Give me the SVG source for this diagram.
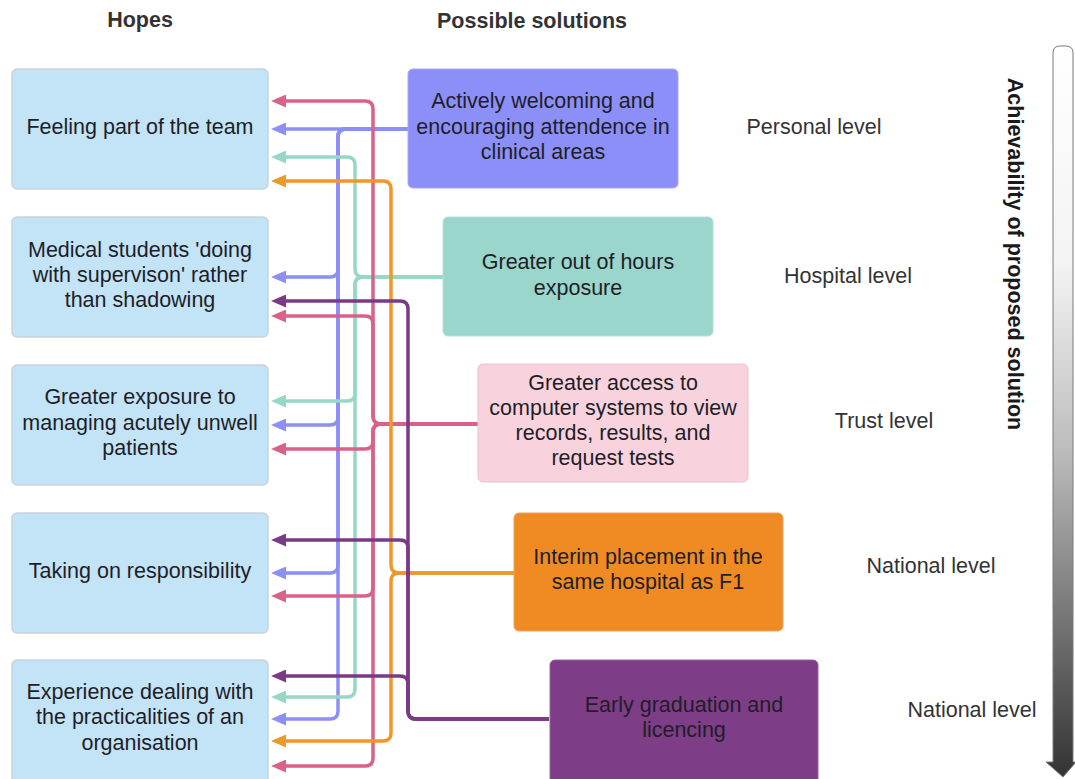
<svg xmlns="http://www.w3.org/2000/svg" width="1075" height="779" viewBox="0 0 1075 779">
<style>
text{font-family:"Liberation Sans",Arial,sans-serif;font-size:21.5px;fill:#1e1e28;text-anchor:middle}
.hd{font-weight:bold;fill:#333}
.lvl{fill:#333}
.hope{fill:#c3e3f6;stroke:#c9d3db;stroke-width:1.5}
.c{fill:none;stroke-width:3.5;stroke-linejoin:round}
.blue{stroke:#8c8ff4}.teal{stroke:#97d7c7}.pink{stroke:#d9628b}.orange{stroke:#ef972a}.purple{stroke:#7b3a86}
</style>
<defs>
<linearGradient id="grad" x1="0" y1="0" x2="0" y2="1">
<stop offset="0" stop-color="#ffffff"/>
<stop offset="0.3" stop-color="#f3f3f3"/>
<stop offset="0.55" stop-color="#bdbdbd"/>
<stop offset="1" stop-color="#333333"/>
</linearGradient>
<marker id="mb" viewBox="0 0 15 13" refX="1" refY="6.5" markerWidth="15" markerHeight="13" markerUnits="userSpaceOnUse" orient="auto"><path d="M0,0 L15,6.5 L0,13 z" fill="#8c8ff4"/></marker>
<marker id="mt" viewBox="0 0 15 13" refX="1" refY="6.5" markerWidth="15" markerHeight="13" markerUnits="userSpaceOnUse" orient="auto"><path d="M0,0 L15,6.5 L0,13 z" fill="#97d7c7"/></marker>
<marker id="mp" viewBox="0 0 15 13" refX="1" refY="6.5" markerWidth="15" markerHeight="13" markerUnits="userSpaceOnUse" orient="auto"><path d="M0,0 L15,6.5 L0,13 z" fill="#d9628b"/></marker>
<marker id="mo" viewBox="0 0 15 13" refX="1" refY="6.5" markerWidth="15" markerHeight="13" markerUnits="userSpaceOnUse" orient="auto"><path d="M0,0 L15,6.5 L0,13 z" fill="#ef972a"/></marker>
<marker id="mu" viewBox="0 0 15 13" refX="1" refY="6.5" markerWidth="15" markerHeight="13" markerUnits="userSpaceOnUse" orient="auto"><path d="M0,0 L15,6.5 L0,13 z" fill="#7b3a86"/></marker>
</defs>
<rect width="1075" height="779" fill="#ffffff"/>

<text class="hd" x="140" y="27">Hopes</text>
<text class="hd" x="532" y="28">Possible solutions</text>

<g id="hope1"><rect class="hope" x="12" y="69" width="256" height="120" rx="5"/><text x="140" y="134">Feeling part of the team</text></g>
<g id="hope2"><rect class="hope" x="12" y="217" width="256" height="120" rx="5"/><text x="140" y="257">Medical students 'doing</text><text x="140" y="282">with supervison' rather</text><text x="140" y="307">than shadowing</text></g>
<g id="hope3"><rect class="hope" x="12" y="365" width="256" height="120" rx="5"/><text x="140" y="404">Greater exposure to</text><text x="140" y="430">managing acutely unwell</text><text x="140" y="455">patients</text></g>
<g id="hope4"><rect class="hope" x="12" y="513" width="256" height="120" rx="5"/><text x="140" y="578">Taking on responsibility</text></g>
<g id="hope5"><rect class="hope" x="12" y="660" width="256" height="125" rx="5"/><text x="140" y="699">Experience dealing with</text><text x="140" y="724">the practicalities of an</text><text x="140" y="750">organisation</text></g>

<g id="connectors">
<path class="c blue" marker-end="url(#mb)" d="M408 129 H285"/>
<path class="c blue" marker-end="url(#mb)" d="M408 129 H346 Q338 129 338 137 V269 Q338 277 330 277 H285"/>
<path class="c blue" marker-end="url(#mb)" d="M408 129 H346 Q338 129 338 137 V417 Q338 425 330 425 H285"/>
<path class="c blue" marker-end="url(#mb)" d="M408 129 H346 Q338 129 338 137 V565 Q338 573 330 573 H285"/>
<path class="c blue" marker-end="url(#mb)" d="M408 129 H346 Q338 129 338 137 V711 Q338 719 330 719 H285"/>

<path class="c teal" marker-end="url(#mt)" d="M443 277 H363 Q355 277 355 269 V165 Q355 157 347 157 H285"/>
<path class="c teal" marker-end="url(#mt)" d="M443 277 H363 Q355 277 355 285 V393 Q355 401 347 401 H285"/>
<path class="c teal" marker-end="url(#mt)" d="M443 277 H363 Q355 277 355 285 V689 Q355 697 347 697 H285"/>

<path class="c pink" marker-end="url(#mp)" d="M478 424 H381 Q373 424 373 416 V109 Q373 101 365 101 H285"/>
<path class="c pink" marker-end="url(#mp)" d="M478 424 H381 Q373 424 373 416 V324 Q373 316 365 316 H285"/>
<path class="c pink" marker-end="url(#mp)" d="M478 424 H381 Q373 424 373 432 V441 Q373 449 365 449 H285"/>
<path class="c pink" marker-end="url(#mp)" d="M478 424 H381 Q373 424 373 432 V588 Q373 596 365 596 H285"/>
<path class="c pink" marker-end="url(#mp)" d="M478 424 H381 Q373 424 373 432 V758 Q373 766 365 766 H285"/>

<path class="c orange" marker-end="url(#mo)" d="M514 573 H399 Q391 573 391 565 V189 Q391 181 383 181 H285"/>
<path class="c orange" marker-end="url(#mo)" d="M514 573 H399 Q391 573 391 581 V733 Q391 741 383 741 H285"/>

<path class="c purple" marker-end="url(#mu)" d="M549 719 H416 Q408 719 408 711 V309 Q408 301 400 301 H285"/>
<path class="c purple" marker-end="url(#mu)" d="M549 719 H416 Q408 719 408 711 V548 Q408 540 400 540 H285"/>
<path class="c purple" marker-end="url(#mu)" d="M549 719 H416 Q408 719 408 711 V684 Q408 676 400 676 H285"/>
</g>

<g id="sol1"><rect x="408" y="69" width="270" height="119" rx="5" fill="#8c8ff8" stroke="#a5a8f5" stroke-width="1"/><text x="543" y="108">Actively welcoming and</text><text x="543" y="134">encouraging attendence in</text><text x="543" y="159">clinical areas</text></g>
<g id="sol2"><rect x="443" y="217" width="270" height="119" rx="5" fill="#9ad6cb" stroke="#b5e0d8" stroke-width="1"/><text x="578" y="269">Greater out of hours</text><text x="578" y="295">exposure</text></g>
<g id="sol3"><rect x="478" y="364" width="270" height="118" rx="5" fill="#f8d3de" stroke="#e6c3cc" stroke-width="1"/><text x="613" y="390">Greater access to</text><text x="613" y="415">computer systems to view</text><text x="613" y="440">records, results, and</text><text x="613" y="465">request tests</text></g>
<g id="sol4"><rect x="514" y="513" width="269" height="118" rx="5" fill="#ef8b22" stroke="#e9a560" stroke-width="1"/><text x="648" y="564">Interim placement in the</text><text x="648" y="589">same hospital as F1</text></g>
<g id="sol5"><rect x="550" y="660" width="268" height="125" rx="5" fill="#7e3d87" stroke="#96649c" stroke-width="1"/><text x="684" y="712">Early graduation and</text><text x="684" y="737">licencing</text></g>

<g id="levels">
<text class="lvl" x="814" y="134">Personal level</text>
<text class="lvl" x="848" y="283">Hospital level</text>
<text class="lvl" x="884" y="428">Trust level</text>
<text class="lvl" x="931" y="573">National level</text>
<text class="lvl" x="972" y="717">National level</text>
</g>

<g id="scale">
<path d="M1053 53 Q1053 46 1060 46 H1066 Q1073 46 1073 53 V762 H1076 L1063 777 L1046 762 H1053 Z" fill="url(#grad)" stroke="#7a7a7a" stroke-width="1"/>
<text class="hd" style="fill:#1a1a1a" transform="translate(1008 254) rotate(90)">Achievability of proposed solution</text>
</g>
</svg>
